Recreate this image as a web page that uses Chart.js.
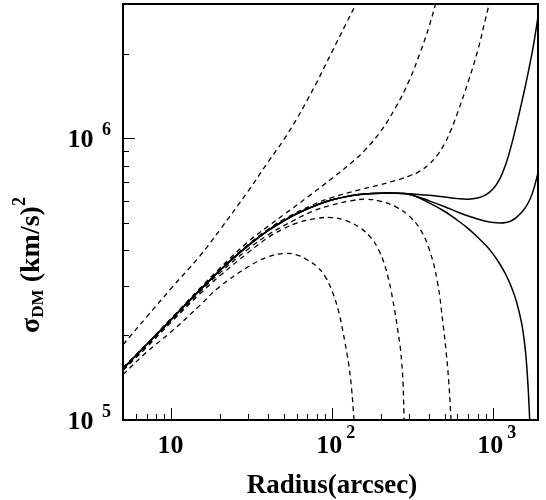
<!DOCTYPE html>
<html>
<head>
<meta charset="utf-8">
<script src="https://cdn.jsdelivr.net/npm/chart.js@4/dist/chart.umd.min.js"></script>
<style>
  html, body { margin: 0; padding: 0; background: #fff; }
  canvas { display: block; }
</style>
</head>
<body>
<canvas id="sigmaChart" width="546" height="500"></canvas>
<script>
// Radius in arcsec, sigma_DM^2 in (km/s)^2.
// Inner part shared by the three solid profiles.
const innerR     = [5, 6, 7, 8, 10, 12, 15, 20, 25, 30, 40, 50, 60, 80, 100, 130, 160, 200, 250, 280];
const innerSigma = [1.52e5, 1.69e5, 1.85e5, 2.0e5, 2.28e5, 2.54e5, 2.89e5, 3.395e5, 3.81e5, 4.16e5,
                    4.71e5, 5.10e5, 5.40e5, 5.80e5, 6.05e5, 6.26e5, 6.35e5, 6.39e5, 6.39e5, 6.37e5];

// Outer parts of the solid profiles
const outerR       = [320, 400, 500, 600, 700, 800, 900, 1000, 1100, 1200, 1300, 1400, 1500, 1600, 1700, 1800, 1900];
const outerSigmaA  = [6.34e5, 6.28e5, 6.19e5, 6.11e5, 6.08e5, 6.14e5, 6.30e5, 6.62e5, 7.18e5, 8.11e5,
                      9.48e5, 1.124e6, 1.331e6, 1.572e6, 1.86e6, 2.219e6, 2.70e6];
const outerSigmaB  = [6.27e5, 6.00e5, 5.72e5, 5.48e5, 5.30e5, 5.17e5, 5.08e5, 5.03e5, 5.01e5, 5.03e5,
                      5.10e5, 5.25e5, 5.45e5, 5.72e5, 6.10e5, 6.70e5, 7.55e5];
const outerRC      = [320, 400, 500, 600, 700, 800, 900, 1000, 1100, 1200, 1300, 1400, 1500, 1550, 1600, 1650, 1690, 1710];
const outerSigmaC  = [6.26e5, 5.90e5, 5.50e5, 5.12e5, 4.78e5, 4.46e5, 4.17e5, 3.88e5, 3.58e5, 3.28e5,
                      2.96e5, 2.62e5, 2.22e5, 1.97e5, 1.68e5, 1.30e5, 0.98e5, 0.85e5];

// Dashed profiles
const dash1R = [5, 7, 10, 15, 20, 30, 40, 50, 60, 70, 80, 100, 120, 145];
const dash1S = [1.85e5, 2.32e5, 2.94e5, 3.82e5, 4.73e5, 6.50e5, 8.26e5, 9.90e5, 1.17e6, 1.37e6, 1.58e6, 2.04e6, 2.51e6, 3.11e6];

const dash2R = [5, 7, 10, 15, 20, 30, 40, 50, 70, 100, 130, 160, 200, 250, 300, 350, 400, 450];
const dash2S = [1.535e5, 1.86e5, 2.30e5, 2.93e5, 3.46e5, 4.30e5, 4.88e5, 5.36e5, 6.18e5, 7.22e5,
                8.15e5, 9.10e5, 1.06e6, 1.30e6, 1.60e6, 2.00e6, 2.50e6, 3.16e6];

const dash3R = [5, 7, 10, 15, 20, 30, 40, 50, 75, 100, 150, 200, 265, 300, 350, 400, 450, 500, 550, 600, 700, 800, 900, 960];
const dash3S = [1.53e5, 1.855e5, 2.29e5, 2.91e5, 3.43e5, 4.20e5, 4.76e5, 5.16e5, 5.80e5, 6.17e5, 6.58e5, 6.85e5,
                7.17e5, 7.35e5, 7.65e5, 8.10e5, 8.72e5, 9.60e5, 1.08e6, 1.23e6, 1.59e6, 2.04e6, 2.68e6, 3.12e6];

const dash4R = [5, 7, 10, 15, 20, 30, 40, 50, 75, 100, 130, 160, 200, 250, 300, 350, 400, 450, 490, 510, 530, 546, 552];
const dash4S = [1.51e5, 1.83e5, 2.26e5, 2.85e5, 3.33e5, 4.05e5, 4.55e5, 4.90e5, 5.50e5, 5.80e5, 6.00e5, 6.08e5,
                5.98e5, 5.70e5, 5.30e5, 4.78e5, 4.05e5, 3.10e5, 2.15e5, 1.75e5, 1.36e5, 1.02e5, 0.90e5];

const dash5R = [5, 7, 10, 15, 20, 30, 40, 50, 60, 80, 100, 120, 150, 175, 195, 210, 225, 237, 247, 256, 265, 270, 275, 279, 281];
const dash5S = [1.50e5, 1.81e5, 2.23e5, 2.80e5, 3.25e5, 3.93e5, 4.45e5, 4.78e5, 5.00e5, 5.20e5, 5.23e5, 5.12e5,
                4.80e5, 4.42e5, 4.00e5, 3.60e5, 3.12e5, 2.70e5, 2.36e5, 2.06e5, 1.80e5, 1.60e5, 1.37e5, 1.05e5, 0.92e5];

const dash6R = [5, 7, 10, 15, 20, 30, 40, 50, 60, 70, 80, 90, 100, 110, 120, 127, 132, 136, 138];
const dash6S = [1.45e5, 1.74e5, 2.06e5, 2.55e5, 2.98e5, 3.50e5, 3.80e5, 3.90e5, 3.86e5, 3.70e5, 3.51e5, 3.24e5,
                2.86e5, 2.40e5, 1.88e5, 1.55e5, 1.28e5, 1.03e5, 0.90e5];

// Axis ranges, tick marks and tick labels
const xRange = [5, 1900];
const yRange = [1e5, 3e6];
const xMajorTicks = [10, 100, 1000];
const xMinorTicks = [6, 7, 8, 9, 20, 30, 40, 50, 60, 70, 80, 90, 200, 300, 400, 500, 600, 700, 800, 900];
const yMajorTicks = [1e5, 1e6];
const yMinorTicks = [2e5, 3e5, 4e5, 5e5, 6e5, 7e5, 8e5, 9e5, 2e6];
const xLabelValues = [10, 100, 1000];
const xLabelExps   = ['', '2', '3'];
const yLabelValues = [1e5, 1e6];
const yLabelExps   = ['5', '6'];
const xTitle = 'Radius(arcsec)';

const SERIF = '"Liberation Serif", "Times New Roman", Times, serif';

function toPoints(rs, ss) {
  return rs.map((r, i) => ({ x: r, y: ss[i] }));
}

function curve(rs, ss, dashed) {
  return {
    data: toPoints(rs, ss),
    showLine: true,
    borderColor: '#000',
    borderWidth: dashed ? 1.3 : 1.5,
    borderDash: dashed ? [5, 4] : [],
    pointRadius: 0,
    pointHoverRadius: 0,
    fill: false,
    tension: 0.4,
    cubicInterpolationMode: 'default'
  };
}

const datasets = [
  curve(innerR.concat(outerR),  innerSigma.concat(outerSigmaA), false),
  curve(innerR.concat(outerR),  innerSigma.concat(outerSigmaB), false),
  curve(innerR.concat(outerRC), innerSigma.concat(outerSigmaC), false),
  curve(dash1R, dash1S, true),
  curve(dash2R, dash2S, true),
  curve(dash3R, dash3S, true),
  curve(dash4R, dash4S, true),
  curve(dash5R, dash5S, true),
  curve(dash6R, dash6S, true)
];

// Draws the boxed frame, inward ticks, power-of-ten labels and axis titles.
const frameAndLabels = {
  id: 'frameAndLabels',
  afterDatasetsDraw(chart) {
    const { ctx, chartArea: a, scales: { x, y } } = chart;
    ctx.save();
    ctx.strokeStyle = '#000';
    ctx.fillStyle = '#000';

    ctx.lineWidth = 1;
    ctx.beginPath();
    const xTick = (v, len) => {
      const px = Math.round(x.getPixelForValue(v)) + 0.5;
      ctx.moveTo(px, a.bottom);
      ctx.lineTo(px, a.bottom - len);
    };
    const yTick = (v, len) => {
      const py = Math.round(y.getPixelForValue(v)) + 0.5;
      ctx.moveTo(a.left, py);
      ctx.lineTo(a.left + len, py);
    };
    xMajorTicks.forEach(v => xTick(v, 12));
    xMinorTicks.forEach(v => xTick(v, 6));
    yMajorTicks.forEach(v => yTick(v, 12));
    yMinorTicks.forEach(v => yTick(v, 6));
    ctx.stroke();

    ctx.lineWidth = 2;
    ctx.strokeRect(a.left, a.top, a.right - a.left, a.bottom - a.top);

    const bigFont = 'bold 26px ' + SERIF;
    const expFont = 'bold 18px ' + SERIF;
    ctx.textBaseline = 'alphabetic';

    // x tick labels
    xLabelValues.forEach((v, i) => {
      const px = x.getPixelForValue(v);
      const exp = xLabelExps[i];
      ctx.font = bigFont;
      const w = ctx.measureText('10').width;
      const cx = px - (exp ? 3 : 1);
      ctx.textAlign = 'left';
      ctx.fillText('10', cx - w / 2, 453);
      if (exp) {
        ctx.font = expFont;
        ctx.fillText(exp, cx + w / 2 + 4, 438);
      }
    });

    // y tick labels
    yLabelValues.forEach((v, i) => {
      const py = y.getPixelForValue(v);
      ctx.font = bigFont;
      ctx.textAlign = 'right';
      ctx.fillText('10', 93.5, py + 8.5);
      ctx.font = expFont;
      ctx.textAlign = 'left';
      ctx.fillText(yLabelExps[i], 102, py - 3);
    });

    // x title
    ctx.font = 'bold 27px ' + SERIF;
    ctx.textAlign = 'center';
    ctx.fillText(xTitle, 332, 493);

    // y title: sigma with DM subscript, (km/s) squared
    const parts = [
      { t: '\u03C3', f: 'bold 28px ' + SERIF, dy: 0 },
      { t: 'DM', f: 'bold 17px ' + SERIF, dy: 4 },
      { t: ' (km/s)', f: 'bold 28px ' + SERIF, dy: 0 },
      { t: '2', f: 'bold 18px ' + SERIF, dy: -14 }
    ];
    let total = 0;
    parts.forEach(p => { ctx.font = p.f; p.w = ctx.measureText(p.t).width; total += p.w; });
    ctx.translate(39, 265);
    ctx.rotate(-Math.PI / 2);
    ctx.textAlign = 'left';
    let u = -total / 2;
    parts.forEach(p => {
      ctx.font = p.f;
      ctx.fillText(p.t, u, p.dy);
      u += p.w;
    });
    ctx.restore();
  }
};

new Chart(document.getElementById('sigmaChart'), {
  type: 'scatter',
  data: { datasets },
  options: {
    responsive: false,
    animation: false,
    events: [],
    layout: { padding: { left: 123, right: 8, top: 4, bottom: 80 } },
    plugins: { legend: { display: false }, tooltip: { enabled: false } },
    scales: {
      x: { type: 'logarithmic', min: xRange[0], max: xRange[1], display: false },
      y: { type: 'logarithmic', min: yRange[0], max: yRange[1], display: false }
    }
  },
  plugins: [frameAndLabels]
});
</script>
</body>
</html>
